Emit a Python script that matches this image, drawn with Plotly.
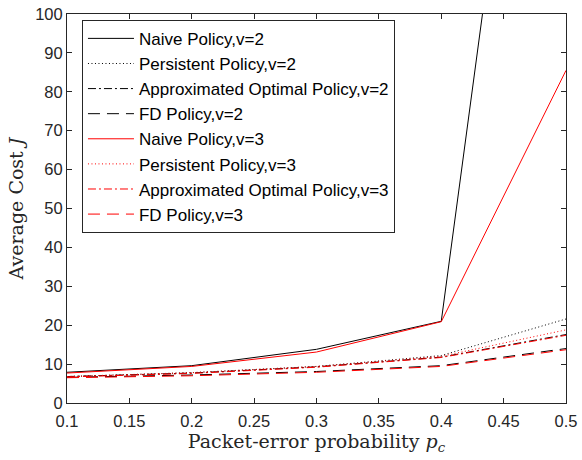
import plotly.graph_objects as go

p_c = [0.1, 0.2, 0.3, 0.4, 0.5]

naive_v2 = [7.9, 9.6, 13.8, 21.0, 260.0]
persistent_v2 = [6.8, 7.8, 9.4, 12.2, 21.6]
approx_v2 = [6.8, 7.7, 9.3, 11.8, 17.6]
fd_v2 = [6.6, 7.2, 8.1, 9.6, 14.0]

naive_v3 = [7.7, 9.4, 13.1, 20.9, 85.5]
persistent_v3 = [6.8, 7.8, 9.4, 12.0, 18.8]
approx_v3 = [6.7, 7.6, 9.2, 11.7, 17.4]
fd_v3 = [6.5, 7.0, 7.9, 9.4, 13.7]

x_ticks = [0.1, 0.15, 0.2, 0.25, 0.3, 0.35, 0.4, 0.45, 0.5]
x_ticktext = ["0.1", "0.15", "0.2", "0.25", "0.3", "0.35", "0.4", "0.45", "0.5"]
y_ticks = [0, 10, 20, 30, 40, 50, 60, 70, 80, 90, 100]

names = [
    "Naive Policy,v=2", "Persistent Policy,v=2", "Approximated Optimal Policy,v=2", "FD Policy,v=2",
    "Naive Policy,v=3", "Persistent Policy,v=3", "Approximated Optimal Policy,v=3", "FD Policy,v=3",
]
series = [naive_v2, persistent_v2, approx_v2, fd_v2, naive_v3, persistent_v3, approx_v3, fd_v3]
colors = ["#000000"] * 4 + ["#ff0000"] * 4
dashes = ["solid", "1px,2.5px", "8px,3px,2px,3px", "12px,7px"] * 2

fig = go.Figure()
for i, (nm, ys) in enumerate(zip(names, series)):
    fig.add_trace(go.Scatter(
        x=p_c, y=ys, mode="lines", name=nm, legendgroup=f"g{i}",
        line=dict(color=colors[i], width=1, dash=dashes[i]),
    ))

title_font = dict(family="DejaVu Serif, Liberation Serif", size=19, color="#262626")

axis_common = dict(
    showline=True, linecolor="#262626", linewidth=1, mirror="ticks",
    ticks="inside", ticklen=5, tickcolor="#262626", showgrid=False, zeroline=False,
    ticklabeloverflow="allow",
    tickfont=dict(family="Liberation Sans, Arial", size=16.5, color="#262626"),
)

fig.update_layout(
    width=582, height=460,
    margin=dict(l=67, r=11, t=5, b=57),
    plot_bgcolor="white", paper_bgcolor="white",
    xaxis=dict(range=[0.1, 0.5], tickvals=x_ticks, ticktext=x_ticktext,
               ticklabelstandoff=3,
               title=dict(text="Packet-error probability <i>p<sub>c</sub></i>",
                          font=title_font, standoff=0),
               **axis_common),
    yaxis=dict(range=[0, 100], tickvals=y_ticks,
               title=dict(text="Average Cost <i>J</i>", font=title_font, standoff=6),
               **axis_common),
    legend=dict(x=0.03, y=0.985, xanchor="left", yanchor="top",
                bordercolor="#262626", borderwidth=1, bgcolor="white",
                font=dict(family="Liberation Sans, Arial", size=17, color="#000000"),
                itemwidth=46, tracegroupgap=0),
    showlegend=True,
)

fig.write_html("out.html")
